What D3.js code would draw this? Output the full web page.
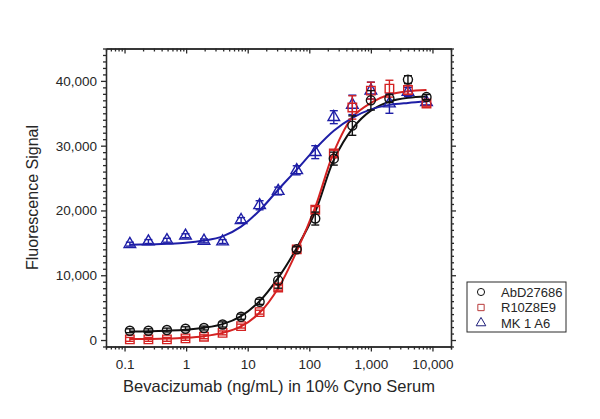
<!DOCTYPE html>
<html lang="en">
<head>
    <meta charset="UTF-8">
    <title>Dose response</title>
    <script src="https://d3js.org/d3.v7.min.js"></script>
    <style>
        body { margin: 0; background: #fff; }
        text { font-family: "Liberation Sans", Arial, sans-serif; fill: #262626; }
    </style>
</head>
<body>
<script>
    const width  = 600;
    const height = 419;

    // two-fold dilution series, ng/mL
    const doses = [0.122, 0.244, 0.488, 0.977, 1.95, 3.91, 7.81, 15.6, 31.25, 62.5, 125, 250, 500, 1000, 2000, 4000, 8000];

    const seriesNames = ["AbD27686", "R10Z8E9", "MK 1 A6"];

    const abdMean = [1430, 1430, 1540, 1740, 1850, 2400, 3600, 5900, 9200, 14000, 18750, 28000, 33100, 37000, 37300, 40200, 37500];
    const abdErr  = [300, 300, 300, 300, 300, 400, 400, 400, 1200, 400, 1000, 1000, 1500, 1500, 600, 600, 400];
    const r10Mean = [100, 100, 100, 260, 500, 1100, 2150, 4300, 8100, 14000, 20100, 28800, 35900, 38500, 38800, 38600, 36500];
    const r10Err  = [300, 300, 300, 300, 300, 300, 300, 300, 400, 400, 500, 500, 1800, 1300, 1300, 700, 400];
    const mkMean  = [14800, 15200, 15400, 16100, 15300, 15200, 18500, 20800, 23000, 26200, 29000, 34400, 36300, 38500, 36500, 38300, 36700];
    const mkErr   = [300, 300, 300, 300, 300, 300, 400, 700, 600, 700, 1000, 1000, 1500, 1300, 1500, 700, 400];

    // fitted curves, values at each dose
    const abdFit = [1300, 1350, 1450, 1600, 1900, 2450, 3700, 6000, 9600, 14200, 19800, 27800, 32600, 35400, 36800, 37400, 37600];
    const r10Fit = [150, 170, 220, 350, 600, 1100, 2100, 4200, 8000, 13700, 20500, 29000, 34400, 36600, 37900, 38400, 38600];
    const mkFit  = [14700, 14750, 14850, 15000, 15350, 16000, 17500, 20000, 23200, 26300, 29500, 32300, 34300, 35600, 36300, 36600, 36800];

    const xMajor = [0.1, 1, 10, 100, 1000, 10000];
    const xTickLabels = ["0.1", "1", "10", "100", "1,000", "10,000"];
    const yMajor = [0, 10000, 20000, 30000, 40000];
    const yTickLabels = ["0", "10,000", "20,000", "30,000", "40,000"];

    const plotLeft = 106, plotRight = 451, plotTop = 48.5, plotBottom = 346.5;

    const x = d3.scaleLog().domain([0.05, 20000]).range([plotLeft, plotRight]);
    const y = d3.scaleLinear().domain([-1000, 45000]).range([plotBottom, plotTop]);

    const colors = ["#111111", "#d42222", "#1e1ea6"];
    const legendColors = ["#111111", "#b83a3a", "#1e1e7a"];

    const svg = d3.select("body").append("svg").attr("width", width).attr("height", height);

    // frame with ticks on all four sides
    const xMinor = x.ticks().filter(t => !xMajor.includes(t));
    const yMinor = d3.range(-1000, 45001, 1000).filter(t => !yMajor.includes(t));

    const axes = svg.append("g").attr("class", "axes");

    function styleAxis(g) {
        g.selectAll("path, line").attr("stroke", "#2b2b2b").attr("stroke-width", 1.3);
        g.selectAll("text").attr("font-size", 13.5).attr("fill", "#2e2e2e");
    }

    // bottom
    axes.append("g").attr("transform", "translate(0," + plotBottom + ")")
        .call(d3.axisBottom(x).tickValues(xMinor).tickSize(3).tickFormat(""))
        .call(styleAxis);
    axes.append("g").attr("transform", "translate(0," + plotBottom + ")")
        .call(d3.axisBottom(x).tickValues(xMajor).tickSize(5).tickSizeOuter(0).tickPadding(8)
            .tickFormat((d, i) => xTickLabels[i]))
        .call(styleAxis);
    // top, ticks pointing in
    axes.append("g").attr("transform", "translate(0," + plotTop + ")")
        .call(d3.axisBottom(x).tickValues(xMinor).tickSize(3).tickSizeOuter(0).tickFormat(""))
        .call(styleAxis);
    axes.append("g").attr("transform", "translate(0," + plotTop + ")")
        .call(d3.axisBottom(x).tickValues(xMajor).tickSize(5).tickSizeOuter(0).tickFormat(""))
        .call(styleAxis);
    // left
    axes.append("g").attr("transform", "translate(" + plotLeft + ",0)")
        .call(d3.axisLeft(y).tickValues(yMinor).tickSize(3).tickSizeOuter(0).tickFormat(""))
        .call(styleAxis);
    axes.append("g").attr("transform", "translate(" + plotLeft + ",0)")
        .call(d3.axisLeft(y).tickValues(yMajor).tickSize(5).tickSizeOuter(0).tickPadding(4)
            .tickFormat((d, i) => yTickLabels[i]))
        .call(styleAxis);
    // right
    axes.append("g").attr("transform", "translate(" + plotRight + ",0)")
        .call(d3.axisRight(y).tickValues(yMinor).tickSize(3).tickSizeOuter(0).tickFormat(""))
        .call(styleAxis);
    axes.append("g").attr("transform", "translate(" + plotRight + ",0)")
        .call(d3.axisRight(y).tickValues(yMajor).tickSize(5).tickSizeOuter(0).tickFormat(""))
        .call(styleAxis);

    // axis titles
    svg.append("text")
        .attr("x", 279).attr("y", 391.5)
        .attr("text-anchor", "middle").attr("font-size", 16.5)
        .text("Bevacizumab (ng/mL) in 10% Cyno Serum");
    svg.append("text")
        .attr("transform", "translate(38," + ((plotTop + plotBottom) / 2) + ") rotate(-90)")
        .attr("text-anchor", "middle").attr("font-size", 16)
        .text("Fluorescence Signal");

    const means = [abdMean, r10Mean, mkMean];
    const errs  = [abdErr, r10Err, mkErr];
    const fits  = [abdFit, r10Fit, mkFit];

    const line = d3.line()
        .x(d => x(d[0]))
        .y(d => y(d[1]))
        .curve(d3.curveCatmullRom.alpha(0.5));

    const circle = d3.symbol().type(d3.symbolCircle).size(64);
    const square = d3.symbol().type(d3.symbolSquare).size(72);
    const triangle = d3.symbol().type(d3.symbolTriangle).size(58);
    const shapes = [circle, square, triangle];

    // fitted curves
    fits.forEach((fit, s) => {
        svg.append("path")
            .datum(doses.map((d, i) => [d, fit[i]]))
            .attr("d", line)
            .attr("fill", "none")
            .attr("stroke", colors[s])
            .attr("stroke-width", 2);
    });

    // error bars and markers
    [2, 1, 0].forEach(s => {
        const pts = doses.map((d, i) => ({dose: d, v: means[s][i], e: errs[s][i]}));
        const g = svg.append("g").attr("class", "series")
            .attr("stroke", colors[s]).attr("fill", "none").attr("stroke-width", 1.4);

        const bars = g.selectAll("g.err").data(pts).enter().append("g").attr("class", "err");
        bars.append("line")
            .attr("x1", d => x(d.dose)).attr("x2", d => x(d.dose))
            .attr("y1", d => y(d.v - d.e)).attr("y2", d => y(d.v + d.e));
        bars.append("line")
            .attr("x1", d => x(d.dose) - 4).attr("x2", d => x(d.dose) + 4)
            .attr("y1", d => y(d.v + d.e)).attr("y2", d => y(d.v + d.e));
        bars.append("line")
            .attr("x1", d => x(d.dose) - 4).attr("x2", d => x(d.dose) + 4)
            .attr("y1", d => y(d.v - d.e)).attr("y2", d => y(d.v - d.e));

        g.selectAll("path.mark").data(pts).enter().append("path")
            .attr("class", "mark")
            .attr("d", shapes[s])
            .attr("transform", d => "translate(" + [x(d.dose), y(d.v)] + ")");
    });

    // legend
    const legend = svg.append("g").attr("transform", "translate(467,282)");
    legend.append("rect")
        .attr("width", 99).attr("height", 50)
        .attr("fill", "#fff").attr("stroke", "#2b2b2b").attr("stroke-width", 1);
    seriesNames.forEach((name, i) => {
        const row = legend.append("g").attr("transform", "translate(0," + (10 + i * 15.5) + ")");
        row.append("path")
            .attr("d", d3.symbol().type([d3.symbolCircle, d3.symbolSquare, d3.symbolTriangle][i]).size(40))
            .attr("transform", "translate(14,0)")
            .attr("fill", "none").attr("stroke", legendColors[i]).attr("stroke-width", 1);
        row.append("text")
            .attr("x", 34).attr("y", 4.5)
            .attr("font-size", 13)
            .text(name);
    });
</script>
</body>
</html>
